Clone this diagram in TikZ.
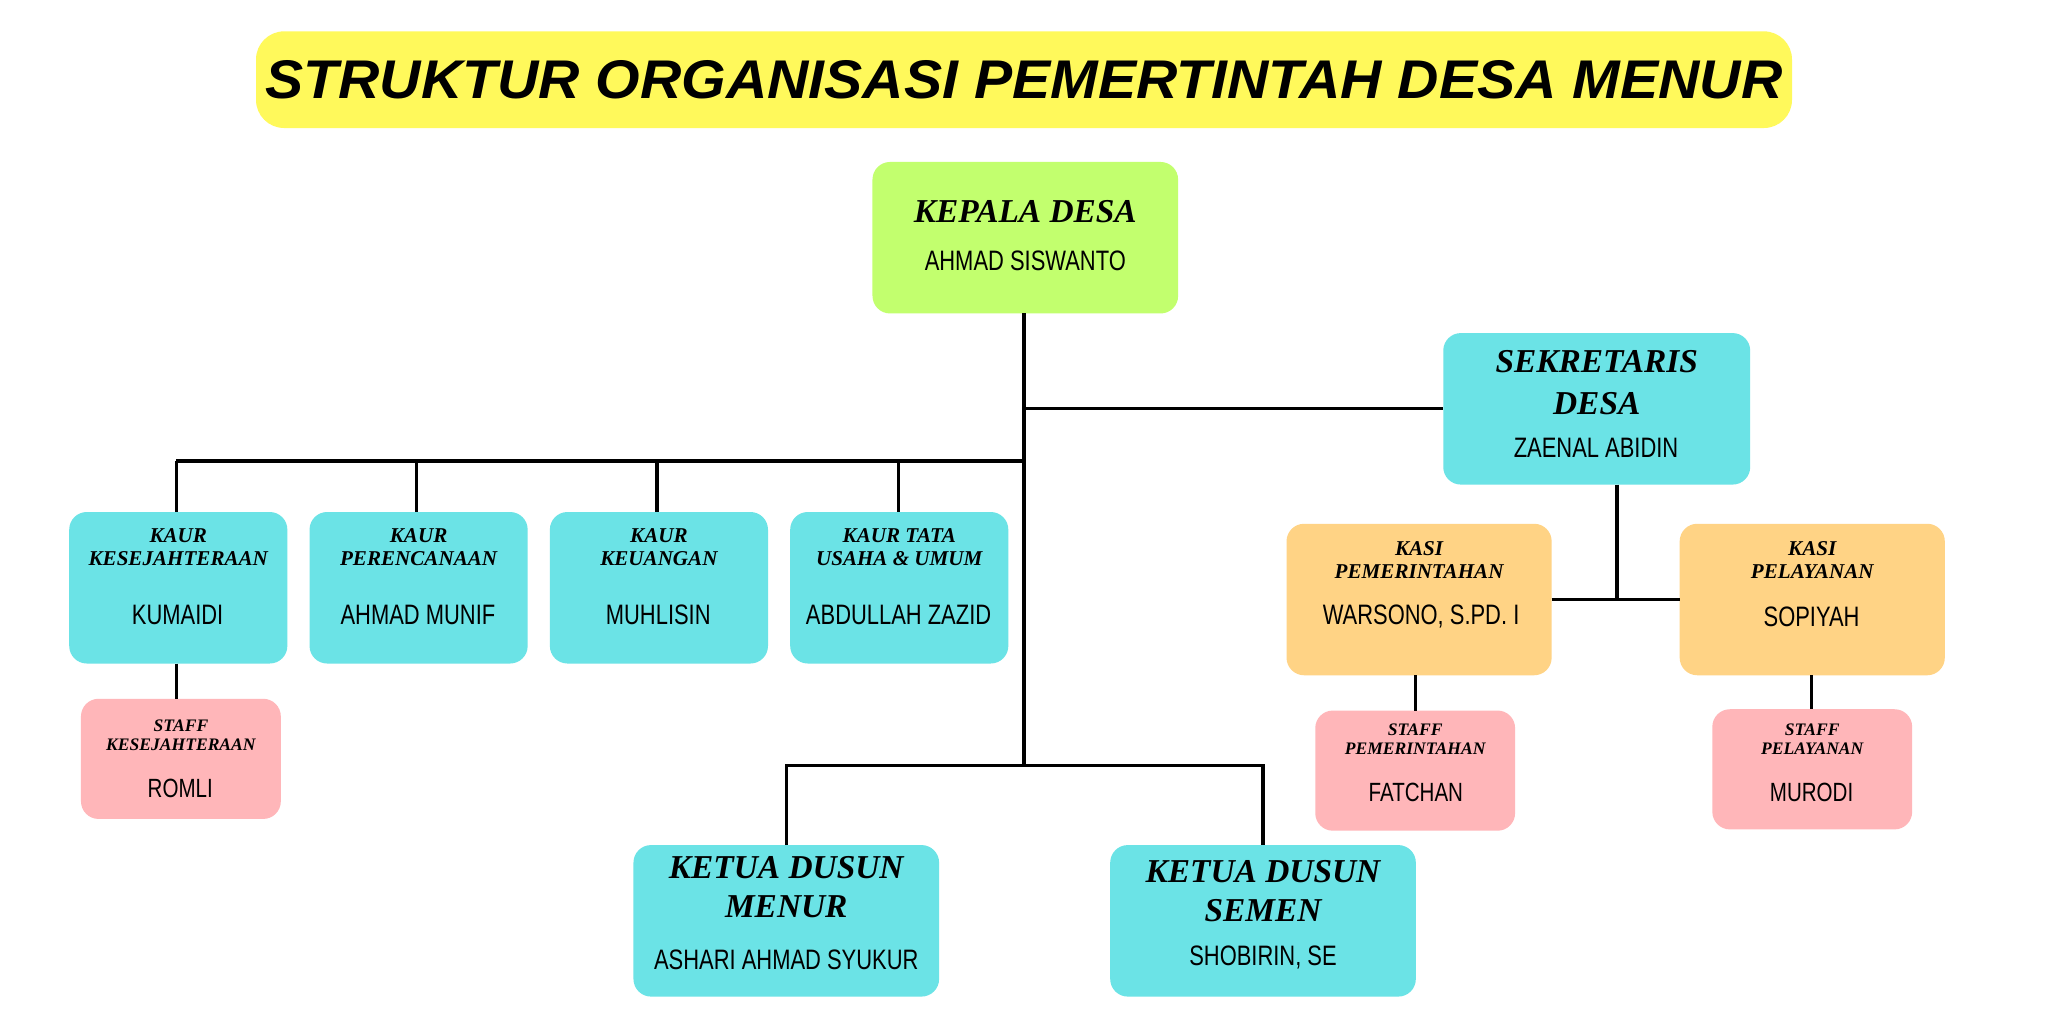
\documentclass[tikz,border=0pt]{standalone}
\usepackage{fontspec}
\setmainfont{Liberation Sans}
\newfontfamily\ttl{Liberation Sans}[FakeStretch=1.05]
\newfontfamily\hdf{Liberation Serif}
\newfontfamily\nmf{Liberation Sans}[FakeStretch=0.78]
\definecolor{cyan1}{HTML}{6BE3E6}
\definecolor{green1}{HTML}{C2FF6E}
\definecolor{yel1}{HTML}{FFF95B}
\definecolor{org1}{HTML}{FFD385}
\definecolor{pink1}{HTML}{FFB6B9}
\tikzset{box/.style={rounded corners=5pt,draw=none},
 ln/.style={line width=0.9pt},
 hd/.style={font=\hdf\bfseries\itshape,align=center,inner sep=0pt},
 nm/.style={font=\nmf,inner sep=0pt}}
\newcommand{\obox}[9]{%
 \path[box,fill=#6] (#2,#3) rectangle (#4,#5);
 \coordinate (#1-nw) at (#2,#3); \coordinate (#1-se) at (#4,#5);
 \coordinate (#1) at ({(#2+#4)/2},{(#3+#5)/2});
 \node[hd,font=\hdf\bfseries\itshape#9] (#1-t) at ({(#2+#4)/2},#8) {#7};
}
\begin{document}
\begin{tikzpicture}[x=0.013061cm,y=-0.013061cm]
\useasboundingbox (0,0) rectangle (1568,784);
\fill[white] (0,0) rectangle (1568,784);
\path[box,rounded corners=8pt,fill=yel1] (196,24) rectangle (1372,98);
\node[font=\ttl\bfseries\itshape\fontsize{15.5}{16}\selectfont] (title) at (784,61) {STRUKTUR ORGANISASI PEMERTINTAH DESA MENUR};
% boxes
\obox{kd}{668}{124}{902}{240}{green1}{KEPALA DESA}{162}{\fontsize{9.5}{10}\selectfont}
\node[nm,font=\nmf\fontsize{8}{9}\selectfont] at (785,200) {AHMAD SISWANTO};
\obox{sd}{1105}{255}{1340}{371}{cyan1}{SEKRETARIS\\[1pt]DESA}{293}{\fontsize{9.5}{11}\selectfont}
\node[nm,font=\nmf\fontsize{8}{9}\selectfont] at (1222,343) {ZAENAL ABIDIN};
\obox{k1}{53}{392}{220}{508}{cyan1}{KAUR\\KESEJAHTERAAN}{419}{\fontsize{6}{6.5}\selectfont}
\node[nm,font=\nmf\fontsize{8}{9}\selectfont] at (136,471) {KUMAIDI};
\obox{k2}{237}{392}{404}{508}{cyan1}{KAUR\\PERENCANAAN}{419}{\fontsize{6}{6.5}\selectfont}
\node[nm,font=\nmf\fontsize{8}{9}\selectfont] at (320,471) {AHMAD MUNIF};
\obox{k3}{421}{392}{588}{508}{cyan1}{KAUR\\KEUANGAN}{419}{\fontsize{6}{6.5}\selectfont}
\node[nm,font=\nmf\fontsize{8}{9}\selectfont] at (504,471) {MUHLISIN};
\obox{k4}{605}{392}{772}{508}{cyan1}{KAUR TATA\\USAHA \& UMUM}{419}{\fontsize{6}{6.5}\selectfont}
\node[nm,font=\nmf\fontsize{8}{9}\selectfont] at (688,471) {ABDULLAH ZAZID};
\obox{s1}{62}{535}{215}{627}{pink1}{STAFF\\KESEJAHTERAAN}{563}{\fontsize{5}{5.5}\selectfont}
\node[nm,font=\nmf\fontsize{7.5}{9}\selectfont] at (138,604) {ROMLI};
\obox{p1}{985}{401}{1188}{517}{org1}{KASI\\PEMERINTAHAN}{429}{\fontsize{6}{6.5}\selectfont}
\node[nm,font=\nmf\fontsize{8}{9}\selectfont] at (1088,472) {WARSONO, S.PD. I};
\obox{p2}{1286}{401}{1489}{517}{org1}{KASI\\PELAYANAN}{429}{\fontsize{6}{6.5}\selectfont}
\node[nm,font=\nmf\fontsize{8}{9}\selectfont] at (1387,472) {SOPIYAH};
\obox{s2}{1007}{544}{1160}{636}{pink1}{STAFF\\PEMERINTAHAN}{566}{\fontsize{5}{5.5}\selectfont}
\node[nm,font=\nmf\fontsize{7.5}{9}\selectfont] at (1084,607) {FATCHAN};
\obox{s3}{1311}{543}{1464}{635}{pink1}{STAFF\\PELAYANAN}{566}{\fontsize{5}{5.5}\selectfont}
\node[nm,font=\nmf\fontsize{7.5}{9}\selectfont] at (1387,607) {MURODI};
\obox{d1}{485}{647}{719}{763}{cyan1}{KETUA DUSUN\\[1pt]MENUR}{679}{\fontsize{9.5}{10}\selectfont}
\node[nm,font=\nmf\fontsize{8}{9}\selectfont] at (602,735) {ASHARI AHMAD SYUKUR};
\obox{d2}{850}{647}{1084}{763}{cyan1}{KETUA DUSUN\\[1pt]SEMEN}{682}{\fontsize{9.5}{10}\selectfont}
\node[nm,font=\nmf\fontsize{8}{9}\selectfont] at (967,733) {SHOBIRIN, SE};
% connectors
\coordinate (j1) at (784,586);
\coordinate (j2) at (784,353);
\coordinate (j3) at (1238,459);
\draw[ln] (784,240) -- (j1);
\draw[ln] (784,313) -- (1105,313);
\draw[ln] (j2) -- (135,353);
\foreach \b/\x in {k1/135,k2/319,k3/503,k4/688} \draw[ln] (\x,353) -- (\x,392);
\draw[ln] (602,647) -- (602,586) -- (967,586) -- (967,647);
\draw[ln] (1238,371) -- (j3);
\draw[ln] (1188,459) -- (1286,459);
\draw[ln] (135,508) -- (135,535);
\draw[ln] (1084,517) -- (1084,544);
\draw[ln] (1387,517) -- (1387,543);
\end{tikzpicture}
\end{document}
